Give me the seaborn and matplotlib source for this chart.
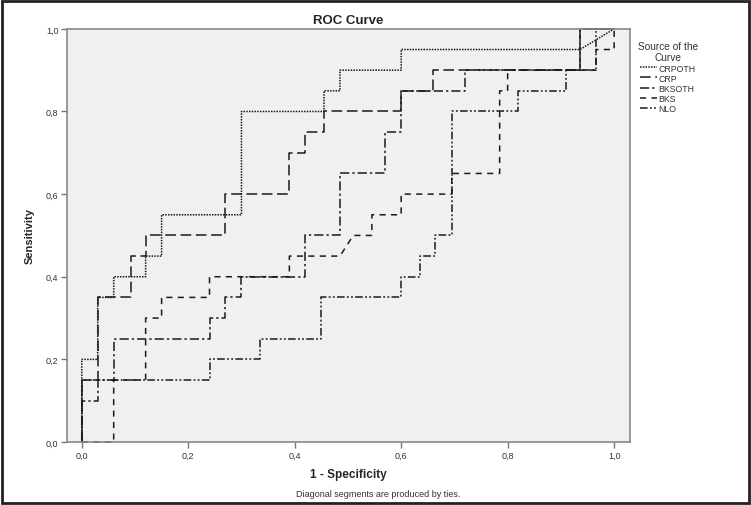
import numpy as np
import pandas as pd
import matplotlib
matplotlib.use('Agg')
import matplotlib.pyplot as plt
from matplotlib.patches import Rectangle
from matplotlib.ticker import FuncFormatter
import seaborn as sns

# ROC points (1 - specificity, sensitivity)
crpoth_fpr = [0, 0, 0.03, 0.03, 0.06, 0.06, 0.12, 0.12, 0.15, 0.15, 0.30, 0.30, 0.455, 0.455, 0.485, 0.485, 0.60, 0.60, 0.936, 1.0]
crpoth_tpr = [0, 0.20, 0.20, 0.35, 0.35, 0.40, 0.40, 0.45, 0.45, 0.55, 0.55, 0.80, 0.80, 0.85, 0.85, 0.90, 0.90, 0.95, 0.95, 1.0]

crp_fpr = [0, 0, 0.03, 0.03, 0.092, 0.092, 0.12, 0.12, 0.27, 0.27, 0.39, 0.39, 0.42, 0.42, 0.455, 0.455, 0.60, 0.60, 0.66, 0.66, 0.936, 0.936, 1.0]
crp_tpr = [0, 0.15, 0.15, 0.35, 0.35, 0.45, 0.45, 0.50, 0.50, 0.60, 0.60, 0.70, 0.70, 0.75, 0.75, 0.80, 0.80, 0.85, 0.85, 0.90, 0.90, 1.0, 1.0]

bksoth_fpr = [0, 0, 0.03, 0.03, 0.06, 0.06, 0.24, 0.24, 0.27, 0.27, 0.30, 0.30, 0.42, 0.42, 0.485, 0.485, 0.57, 0.57, 0.60, 0.60, 0.72, 0.72, 0.936, 0.936, 1.0]
bksoth_tpr = [0, 0.10, 0.10, 0.15, 0.15, 0.25, 0.25, 0.30, 0.30, 0.35, 0.35, 0.40, 0.40, 0.50, 0.50, 0.65, 0.65, 0.75, 0.75, 0.85, 0.85, 0.90, 0.90, 1.0, 1.0]

bks_fpr = [0, 0.06, 0.06, 0.12, 0.12, 0.15, 0.15, 0.24, 0.24, 0.39, 0.39, 0.485, 0.51, 0.545, 0.545, 0.60, 0.60, 0.695, 0.695, 0.785, 0.785, 0.80, 0.80, 0.966, 0.966, 1.0, 1.0]
bks_tpr = [0, 0, 0.15, 0.15, 0.30, 0.30, 0.35, 0.35, 0.40, 0.40, 0.45, 0.45, 0.50, 0.50, 0.55, 0.55, 0.60, 0.60, 0.65, 0.65, 0.85, 0.85, 0.90, 0.90, 0.95, 0.95, 1.0]

nlo_fpr = [0, 0, 0.24, 0.24, 0.335, 0.335, 0.45, 0.45, 0.60, 0.60, 0.635, 0.635, 0.663, 0.663, 0.695, 0.695, 0.82, 0.82, 0.91, 0.91, 0.966, 0.966, 1.0]
nlo_tpr = [0, 0.15, 0.15, 0.20, 0.20, 0.25, 0.25, 0.35, 0.35, 0.40, 0.40, 0.45, 0.45, 0.50, 0.50, 0.80, 0.80, 0.85, 0.85, 0.90, 0.90, 1.0, 1.0]

curve_names = ['CRPOTH', 'CRP', 'BKSOTH', 'BKS', 'NLO']
tick_values = [0.0, 0.2, 0.4, 0.6, 0.8, 1.0]

curves = {
    'CRPOTH': (crpoth_fpr, crpoth_tpr),
    'CRP': (crp_fpr, crp_tpr),
    'BKSOTH': (bksoth_fpr, bksoth_tpr),
    'BKS': (bks_fpr, bks_tpr),
    'NLO': (nlo_fpr, nlo_tpr),
}
styles = {
    'CRPOTH': (0, (1.0, 0.8)),
    'CRP': (0, (7, 3)),
    'BKSOTH': (0, (6, 2, 1.5, 2)),
    'BKS': (0, (4, 3.5)),
    'NLO': (0, (5, 1.5, 1.2, 1.5, 1.2, 1.5)),
}

sns.set_style('white')
plt.rcParams['font.family'] = ['Liberation Sans', 'DejaVu Sans']

fig = plt.figure(figsize=(7.51, 5.06), dpi=100)
ax = fig.add_axes([0.089, 0.1245, 0.75, 0.8165])
ax.set_facecolor('#f0f0f0')

for name in curve_names:
    fpr, tpr = curves[name]
    df = pd.DataFrame({'fpr': fpr, 'tpr': tpr})
    sns.lineplot(data=df, x='fpr', y='tpr', sort=False, estimator=None, ax=ax,
                 color='#1a1a1a', linewidth=1.3, linestyle=styles[name],
                 label=name, clip_on=False)

ax.set_xlim(-0.028, 1.03)
ax.set_ylim(0, 1.0)
ax.set_xticks(tick_values)
ax.set_yticks(tick_values)
fmt = FuncFormatter(lambda v, p: f'{v:.1f}'.replace('.', ','))
ax.xaxis.set_major_formatter(fmt)
ax.yaxis.set_major_formatter(fmt)
ax.tick_params(axis='both', length=4, width=1, color='#777777', labelsize=6.5,
               labelcolor='#333333', pad=2, bottom=True, left=True)
for s in ax.spines.values():
    s.set_color('#888888')
    s.set_linewidth(1.2)

ax.set_title('ROC Curve', fontsize=9.5, fontweight='bold', pad=4)
ax.set_xlabel('1 - Specificity', fontsize=8.5, fontweight='bold', labelpad=6)
ax.set_ylabel('Sensitivity', fontsize=8, fontweight='bold', labelpad=8)

handles, labels = ax.get_legend_handles_labels()
for h, name in zip(handles, labels):
    h.set_linestyle(styles[name])
    h.set_linewidth(1.1)
leg = ax.legend(handles, labels, loc='upper left', bbox_to_anchor=(1.0, 0.99),
                frameon=False, title='Source of the\nCurve', fontsize=6.3,
                title_fontsize=7.3, handlelength=1.9, handletextpad=0.2,
                labelspacing=0.12)
leg.get_title().set_color('#333333')
leg.get_title().set_multialignment('center')
for t in leg.get_texts():
    t.set_color('#333333')

fig.text(0.503, 0.022, 'Diagonal segments are produced by ties.', ha='center',
         va='center', fontsize=6.5, color='#333333')

fig.patches.append(Rectangle((0.003, 0.004), 0.994, 0.992, transform=fig.transFigure,
                             fill=False, edgecolor='#222222', linewidth=2))

plt.savefig('out.png', dpi=100)
